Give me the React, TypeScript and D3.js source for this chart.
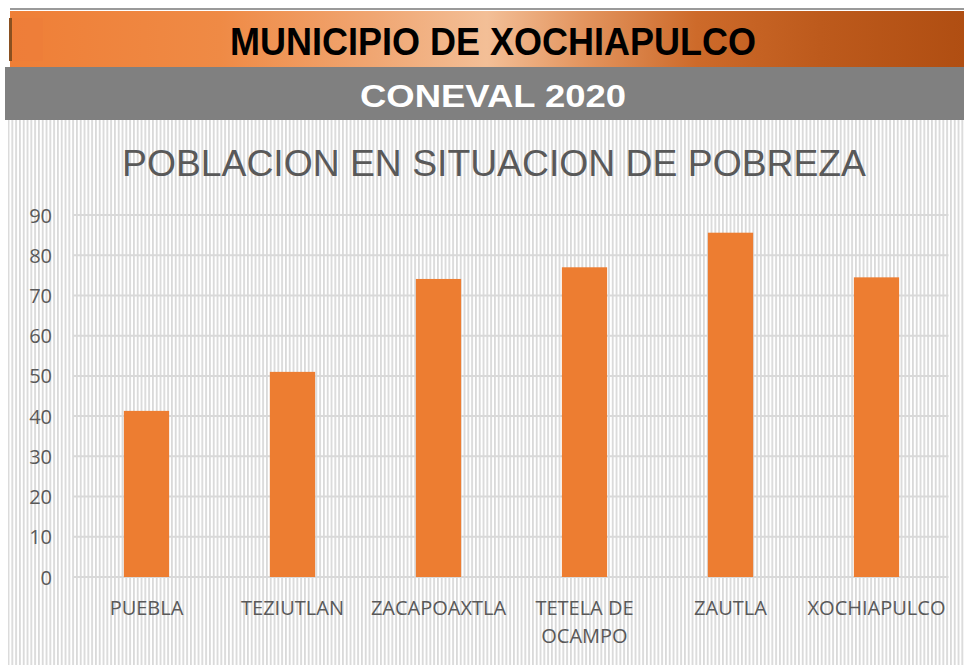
import React from "react";
import * as d3 from "d3";

const categories = ["PUEBLA", "TEZIUTLAN", "ZACAPOAXTLA", "TETELA DE OCAMPO", "ZAUTLA", "XOCHIAPULCO"];
const values = [41.3, 51.0, 74.1, 77.0, 85.6, 74.5];
const yTicks = [0, 10, 20, 30, 40, 50, 60, 70, 80, 90];
const labelLines: Record<string, string[]> = { "TETELA DE OCAMPO": ["TETELA DE", "OCAMPO"] };

const W = 964, H = 665;
const plot = { left: 73.5, right: 949.5, top: 215, bottom: 577 };

export default function App() {
  const x = d3.scaleBand<string>().domain(categories).range([plot.left, plot.right]).paddingInner(0.69).paddingOuter(0.345);
  const y = d3.scaleLinear().domain([0, 90]).range([plot.bottom, plot.top]);
  const txt = "#595959";
  return (
    <svg width={W} height={H} style={{ position: "absolute", left: 0, top: 0 }} xmlns="http://www.w3.org/2000/svg">
      <defs>
        <pattern id="stripes" width={3.8} height={10} patternUnits="userSpaceOnUse">
          <rect x={0} y={0} width={3.8} height={10} fill="#ffffff" />
          <rect x={0} y={0} width={1.8} height={10} fill="#d9d9d9" />
        </pattern>
        <linearGradient id="hdr" x1="0" x2="1" y1="0" y2="0">
          <stop offset="0" stopColor="#ef7f37" />
          <stop offset="0.22" stopColor="#ef8a45" />
          <stop offset="0.38" stopColor="#f0a672" />
          <stop offset="0.5" stopColor="#f3bf97" />
          <stop offset="0.6" stopColor="#e3955f" />
          <stop offset="0.72" stopColor="#cd6a2a" />
          <stop offset="0.85" stopColor="#bd5a1c" />
          <stop offset="1" stopColor="#b04e12" />
        </linearGradient>
      </defs>
      <rect x={0} y={0} width={W} height={H} fill="#ffffff" />
      <rect x={8} y={120} width={W - 8} height={H - 120} fill="url(#stripes)" />
      <rect x={10} y={8} width={W - 10} height={2} fill="#9a9a9a" />
      <rect x={10} y={11} width={W - 10} height={56} fill="url(#hdr)" />
      <rect x={9} y={18} width={3} height={43} fill="#8a5020" />
      <rect x={13} y={18} width={30} height={43} fill="#ee7b3a" opacity={0.5} />
      <text x={493} y={55} textAnchor="middle" fontFamily="'Liberation Sans Narrow', 'Arial Narrow', 'Liberation Sans', sans-serif" fontWeight="bold" fontSize={38} fill="#000" textLength={526} lengthAdjust="spacingAndGlyphs">MUNICIPIO DE XOCHIAPULCO</text>
      <rect x={5} y={67} width={W - 5} height={53} fill="#808080" />
      <text x={493} y={107} textAnchor="middle" fontFamily="'Liberation Sans', Arial, sans-serif" fontWeight="bold" fontSize={32} fill="#ffffff" textLength={266} lengthAdjust="spacingAndGlyphs">CONEVAL 2020</text>
      <text x={494} y={176} textAnchor="middle" fontFamily="'Liberation Sans', 'Open Sans', sans-serif" fontSize={37} fill={txt} textLength={744} lengthAdjust="spacingAndGlyphs">POBLACION EN SITUACION DE POBREZA</text>
      {yTicks.map((t) => (
        <line key={t} x1={plot.left} x2={plot.right - 1} y1={y(t)} y2={y(t)} stroke="#d9d9d9" strokeWidth={2} />
      ))}
      {yTicks.map((t) => (
        <text key={"l" + t} x={52} y={y(t) + 7.5} textAnchor="end" fontFamily="'Open Sans', sans-serif" fontSize={20} fill={txt}>{t}</text>
      ))}
      {categories.map((c, i) => (
        <rect key={c} x={x(c)} y={y(values[i])} width={x.bandwidth()} height={y(0) - y(values[i])} fill="#ed7d31" />
      ))}
      {categories.map((c) => {
        const lines = labelLines[c] || [c];
        const cx = (x(c) as number) + x.bandwidth() / 2;
        return lines.map((ln, j) => (
          <text key={c + j} x={cx} y={615 + j * 28} textAnchor="middle" fontFamily="'Open Sans', sans-serif" fontSize={20} fill={txt}>{ln}</text>
        ));
      })}
    </svg>
  );
}
